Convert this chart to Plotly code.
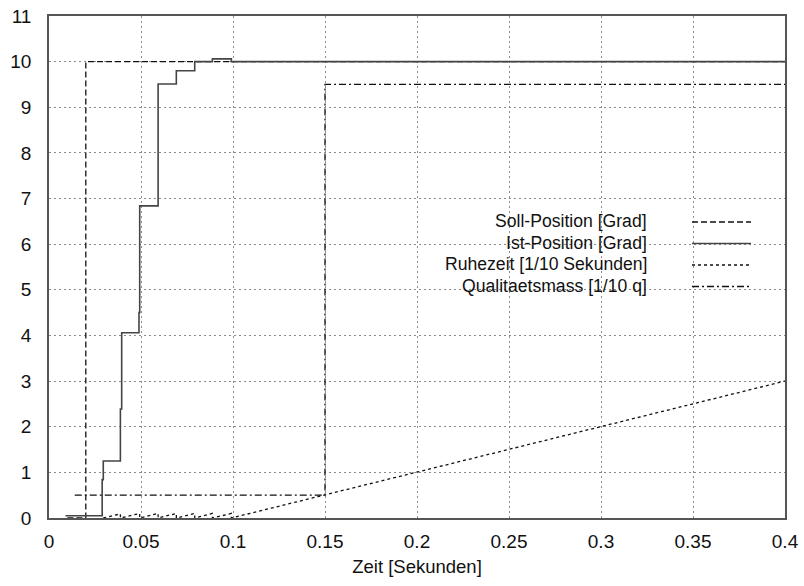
import plotly.graph_objects as go

# ---- data ----
soll_t = [0.01, 0.02, 0.4]
soll_v = [0.0, 10.0, 10.0]

ist_t = [0.009, 0.0289, 0.0295, 0.0388, 0.0395, 0.0489, 0.0493, 0.0593, 0.0692, 0.0792, 0.0888, 0.0991, 0.4]
ist_v = [0.05, 0.84, 1.25, 2.39, 4.06, 4.5, 6.84, 9.51, 9.80, 10.0, 10.06, 10.0, 10.0]

ruhe_t = [0.0295, 0.0388, 0.0388, 0.0493, 0.0493, 0.0593, 0.0593, 0.0692, 0.0692,
          0.0792, 0.0792, 0.0888, 0.0888, 0.0991, 0.0991, 0.4]
ruhe_v = [0.0, 0.09, 0.0, 0.1, 0.0, 0.1, 0.0, 0.1, 0.0, 0.1, 0.0, 0.1, 0.0, 0.1, 0.0, 3.0]

qual_t = [0.014, 0.15, 0.4]
qual_v = [0.5, 9.5, 9.5]

x_ticks = [0, 0.05, 0.1, 0.15, 0.2, 0.25, 0.3, 0.35, 0.4]
x_labels = ["0", "0.05", "0.1", "0.15", "0.2", "0.25", "0.3", "0.35", "0.4"]
y_ticks = list(range(0, 12))

names = ["Soll-Position [Grad]", "Ist-Position [Grad]",
         "Ruhezeit [1/10 Sekunden]", "Qualitaetsmass [1/10 q]"]

# ---- styles ----
W, H = 804, 586
L, R, T, B = 49, 19, 16, 68
FONT = "Liberation Sans, Arial, Helvetica, sans-serif"
styles = [
    dict(color="#111", width=1.3, dash="6px,3px"),
    dict(color="#444", width=1.6, dash="solid"),
    dict(color="#111", width=1.3, dash="3px,3px"),
    dict(color="#111", width=1.3, dash="7px,3px,2px,3px"),
]
shapes_hv = ["hv", "hv", "linear", "hv"]

fig = go.Figure()
for (tt, vv), nm, st, sh in zip([(soll_t, soll_v), (ist_t, ist_v), (ruhe_t, ruhe_v), (qual_t, qual_v)],
                                names, styles, shapes_hv):
    fig.add_trace(go.Scatter(x=tt, y=vv, mode="lines", name=nm, line=dict(shape=sh, **st),
                             showlegend=False))

pw, ph = W - L - R, H - T - B
# convert screen pixel positions to paper coords
def px(x):
    return (x - L) / pw
def py(y):
    return (H - B - y) / ph

# custom gnuplot-style key: text right aligned, sample on the right
shapes = [dict(type="rect", xref="paper", yref="paper", x0=px(375), x1=px(760), y0=py(298), y1=py(210),
               fillcolor="white", line=dict(width=0), layer="between")]
annotations = []
row_y = [221, 242.5, 264, 285.5]
for nm, st, yy in zip(names, styles, row_y):
    annotations.append(dict(x=px(649), y=py(yy), xref="paper", yref="paper", text=nm, showarrow=False,
                            xanchor="right", yanchor="middle", font=dict(family=FONT, size=17.6, color="#111")))
    shapes.append(dict(type="line", xref="paper", yref="paper", x0=px(692), x1=px(751), y0=py(yy + 1), y1=py(yy + 1),
                       line=dict(color=st["color"], width=st["width"], dash=st["dash"]), layer="above"))

fig.update_layout(
    width=W, height=H, margin=dict(l=L, r=R, t=T, b=B, autoexpand=False),
    paper_bgcolor="white", plot_bgcolor="white",
    font=dict(family=FONT, size=19, color="#111"),
    shapes=shapes, annotations=annotations,
)
grid = dict(showgrid=True, gridcolor="#8a8a8a", gridwidth=1, griddash="2px,3px",
            showline=True, linecolor="#555", linewidth=1.5, mirror=True, zeroline=False,
            ticks="", automargin=False, ticklabeloverflow="allow")
fig.update_xaxes(range=[0, 0.4], tickvals=x_ticks, ticktext=x_labels, ticklabelstandoff=5,
                 title=dict(text="Zeit [Sekunden]", font=dict(size=18.5), standoff=10), **grid)
fig.update_yaxes(range=[0, 11], tickvals=y_ticks, ticklabelstandoff=12, **grid)

fig.write_html("out.html", config={"displayModeBar": False},
               post_script="document.body.style.margin='0px';")
